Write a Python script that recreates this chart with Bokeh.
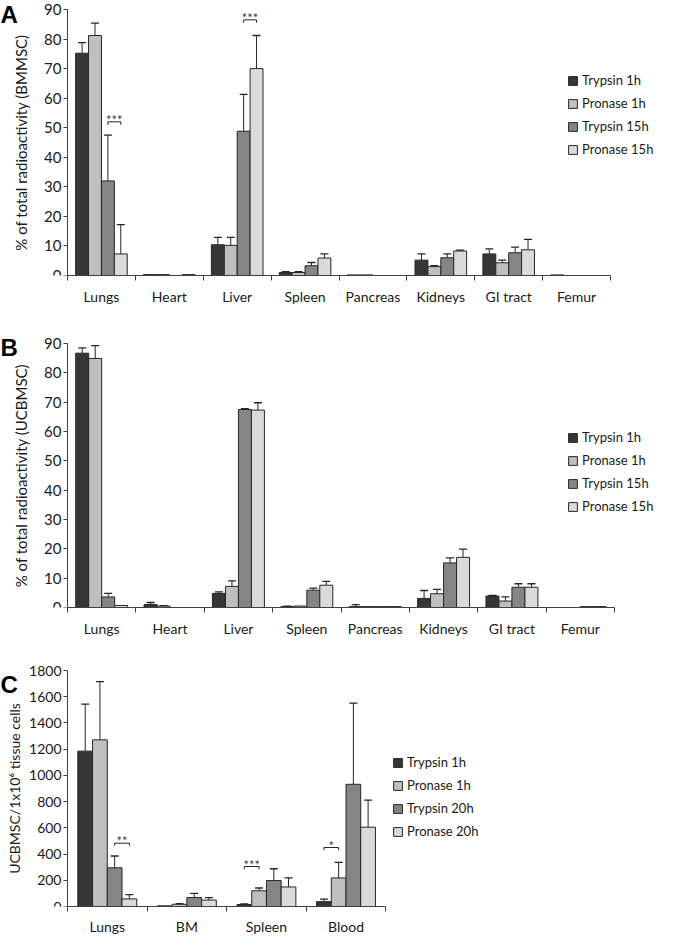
from bokeh.plotting import figure
from bokeh.models import (Range1d, FixedTicker, Whisker, TeeHead, ColumnDataSource,
                          Legend, LegendItem, Label)
from bokeh.layouts import column
from bokeh.core.properties import value
from bokeh.embed import file_html
from bokeh.resources import INLINE

# ---------------- data ----------------
organs_ab = ["Lungs", "Heart", "Liver", "Spleen", "Pancreas", "Kidneys", "GI tract", "Femur"]
series_ab = ["Trypsin 1h", "Pronase 1h", "Trypsin 15h", "Pronase 15h"]

# Panel A (BMMSC), % of total radioactivity
a_trypsin_1h = [75.2, 0.3, 10.4, 1.0, 0.2, 5.2, 7.3, 0.2]
a_pronase_1h = [81.2, 0.3, 10.2, 1.0, 0.2, 3.0, 4.3, 0.0]
a_trypsin_15h = [32.0, 0.0, 48.8, 3.3, 0.0, 6.0, 7.7, 0.0]
a_pronase_15h = [7.3, 0.3, 70.0, 5.9, 0.0, 8.3, 8.7, 0.0]
a_sd_trypsin_1h = [3.6, 0.0, 2.5, 0.3, 0.0, 2.1, 1.7, 0.0]
a_sd_pronase_1h = [4.2, 0.0, 2.7, 0.3, 0.0, 0.3, 0.9, 0.0]
a_sd_trypsin_15h = [15.5, 0.0, 12.5, 1.1, 0.0, 1.3, 1.9, 0.0]
a_sd_pronase_15h = [9.9, 0.0, 11.2, 1.4, 0.0, 0.3, 3.5, 0.0]

# Panel B (UCBMSC), % of total radioactivity
b_trypsin_1h = [86.7, 1.0, 4.8, 0.3, 0.3, 3.1, 3.9, 0.0]
b_pronase_1h = [84.9, 0.5, 7.2, 0.5, 0.3, 4.7, 2.2, 0.0]
b_trypsin_15h = [3.6, 0.0, 67.5, 5.9, 0.3, 15.2, 6.9, 0.3]
b_pronase_15h = [0.7, 0.0, 67.3, 7.6, 0.3, 17.1, 6.9, 0.3]
b_sd_trypsin_1h = [1.8, 0.7, 0.5, 0.2, 0.7, 2.7, 0.2, 0.0]
b_sd_pronase_1h = [4.4, 0.1, 1.9, 0.0, 0.0, 1.5, 1.4, 0.0]
b_sd_trypsin_15h = [1.2, 0.0, 0.3, 0.7, 0.0, 1.7, 1.2, 0.0]
b_sd_pronase_15h = [0.0, 0.0, 2.5, 1.3, 0.0, 2.8, 1.2, 0.0]

# Panel C, UCBMSC per 1x10^6 tissue cells
organs_c = ["Lungs", "BM", "Spleen", "Blood"]
series_c = ["Trypsin 1h", "Pronase 1h", "Trypsin 20h", "Pronase 20h"]
c_trypsin_1h = [1185, 5, 15, 37]
c_pronase_1h = [1271, 17, 120, 218]
c_trypsin_20h = [295, 68, 198, 932]
c_pronase_20h = [58, 49, 149, 605]
c_sd_trypsin_1h = [359, 0, 5, 19]
c_sd_pronase_1h = [444, 5, 21, 119]
c_sd_trypsin_20h = [90, 32, 90, 619]
c_sd_pronase_20h = [32, 19, 70, 207]

# significance brackets: (organ, series index 1, series index 2, y, stars)
brackets_a = [("Lungs", 2, 3, 52, "***"), ("Liver", 2, 3, 86.5, "***")]
brackets_c = [("Lungs", 2, 3, 483, "**"), ("Spleen", 0, 1, 305, "***"), ("Blood", 0, 1, 450, "*")]

# ---------------- style ----------------
COLORS = ["#363636", "#bfbfbf", "#858585", "#dadada"]
EDGE = "#262626"
AXC = "#404040"
TXT = "#1a1a1a"
FONT = "Lato"
FIG_W = 659      # frame spans the whole figure width
AXIS_X = 67      # pixel position of the value axis inside the frame


def make_panel(letter, cats, names, vals, sds, ymax, ystep, ylabel, axis_px, bw,
               top_pad, plot_h, bottom_b, leg_xy, brackets, leg_len, letter_dy,
               tick_fs, label_fs, ylabel_standoff, cat_standoff):
    n = len(cats)
    upx = n / axis_px                     # data units per pixel along x
    x0 = -AXIS_X * upx
    x1 = (FIG_W - AXIS_X) * upx
    vpx = ymax / plot_h                   # data units per pixel along y
    y1 = ymax + top_pad * vpx
    p = figure(frame_width=FIG_W, frame_height=top_pad + plot_h,
               x_range=Range1d(x0, x1), y_range=Range1d(0, y1),
               output_backend="svg", toolbar_location=None,
               min_border_left=0, min_border_right=0,
               min_border_top=0, min_border_bottom=bottom_b)
    p.outline_line_color = None
    p.xgrid.visible = False
    p.ygrid.visible = False

    centers = [j + 0.5 for j in range(n)]
    nser = len(names)
    items = []
    xs_all = []
    for i, (nm, v, s, c) in enumerate(zip(names, vals, sds, COLORS)):
        off = (i - (nser - 1) / 2) * bw
        xs = [cc + off for cc in centers]
        xs_all.append(xs)
        src = ColumnDataSource(dict(x=xs, top=v))
        r = p.vbar(x='x', top='top', bottom=0, width=bw, source=src,
                   fill_color=c, line_color=EDGE, line_width=1)
        items.append(LegendItem(label=nm, renderers=[r]))
        wx = [x for x, e in zip(xs, s) if e > 0]
        wl = [t for t, e in zip(v, s) if e > 0]
        wh = [t + e for t, e in zip(v, s) if e > 0]
        wsrc = ColumnDataSource(dict(x=wx, lo=wl, hi=wh))
        w = Whisker(base='x', lower='lo', upper='hi', source=wsrc, dimension='height',
                    line_color=EDGE, line_width=1, lower_head=None,
                    upper_head=TeeHead(size=8, line_color=EDGE, line_width=1.3))
        p.add_layout(w)

    # significance brackets
    for organ, i1, i2, yb, stars in brackets:
        j = cats.index(organ)
        xa1 = xs_all[i1][j]
        xa2 = xs_all[i2][j]
        p.line(x=[xa1, xa1, xa2, xa2], y=[yb - leg_len, yb, yb, yb - leg_len],
               line_color=EDGE, line_width=1)
        p.text(x=[(xa1 + xa2) / 2], y=[yb], text=[stars], text_font=value(FONT),
               text_font_size="13px", text_align="center", text_baseline="alphabetic",
               y_offset=-2, text_color="#3a3a3a")

    xa = p.xaxis[0]
    xa.ticker = FixedTicker(ticks=centers, minor_ticks=list(range(n + 1)))
    xa.major_label_overrides = {cc: cat for cc, cat in zip(centers, cats)}
    xa.bounds = (0, n)
    xa.major_tick_out = 0
    xa.major_tick_in = 0
    xa.minor_tick_out = 5
    xa.minor_tick_in = 0
    xa.minor_tick_line_color = AXC
    xa.axis_line_color = AXC
    xa.major_label_text_font = FONT
    xa.major_label_text_font_size = "14px"
    xa.major_label_text_color = TXT
    xa.major_label_standoff = cat_standoff

    ya = p.yaxis[0]
    ya.fixed_location = 0
    ya.bounds = (0, ymax)
    ya.ticker = FixedTicker(ticks=list(range(0, ymax + 1, ystep)))
    ya.major_tick_out = 4
    ya.major_tick_in = 0
    ya.minor_tick_line_color = None
    ya.major_tick_line_color = AXC
    ya.axis_line_color = AXC
    ya.major_label_text_font = FONT
    ya.major_label_text_font_size = tick_fs
    ya.major_label_text_color = TXT
    ya.major_label_standoff = 2
    ya.axis_label = ylabel
    ya.axis_label_text_font = FONT
    ya.axis_label_text_font_size = label_fs
    ya.axis_label_text_font_style = "normal"
    ya.axis_label_text_color = TXT
    ya.axis_label_standoff = ylabel_standoff

    lg = Legend(items=items, location=leg_xy, label_text_font=FONT,
                label_text_font_size="13px", label_text_color=TXT,
                glyph_width=11, glyph_height=11, label_standoff=4,
                label_height=20, spacing=3, padding=0, margin=0,
                border_line_color=None, background_fill_alpha=0)
    p.add_layout(lg)

    # panel letter at the top-left corner (inside the frame)
    p.add_layout(Label(x=x0, y=y1 - letter_dy * vpx, text=letter,
                       text_font="Liberation Sans", text_font_style="bold",
                       text_font_size="24px", text_baseline="top",
                       text_align="left", text_color="#000000"))
    return p


pA = make_panel("A", organs_ab, series_ab,
                [a_trypsin_1h, a_pronase_1h, a_trypsin_15h, a_pronase_15h],
                [a_sd_trypsin_1h, a_sd_pronase_1h, a_sd_trypsin_15h, a_sd_pronase_15h],
                90, 10, "% of total radioactivity (BMMSC)", 543, 0.19,
                9, 266, 38, (567, 116), brackets_a, 1.0, 0, "15px", "15px", 11, 7)

pB = make_panel("B", organs_ab, series_ab,
                [b_trypsin_1h, b_pronase_1h, b_trypsin_15h, b_pronase_15h],
                [b_sd_trypsin_1h, b_sd_pronase_1h, b_sd_trypsin_15h, b_sd_pronase_15h],
                90, 10, "% of total radioactivity (UCBMSC)", 547, 0.19,
                30, 264, 36, (567, 91), [], 1.0, 20, "15px", "15px", 11, 7)

pC = make_panel("C", organs_c, series_c,
                [c_trypsin_1h, c_pronase_1h, c_trypsin_20h, c_pronase_20h],
                [c_sd_trypsin_1h, c_sd_pronase_1h, c_sd_trypsin_20h, c_sd_pronase_20h],
                1800, 200, "UCBMSC/1x10\u2076 tissue cells", 318.3, 0.185,
                27, 236, 28, (392, 65), brackets_c, 20, 27, "14px", "14px", 3, 6)

layout = column(pA, pB, pC, spacing=0)
open("out.html", "w").write(file_html(layout, INLINE))
